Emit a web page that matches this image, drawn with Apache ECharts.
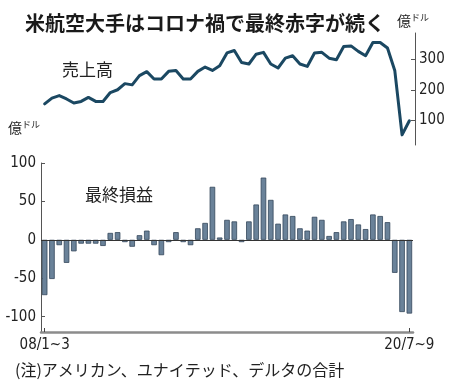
<!DOCTYPE html>
<html><head><meta charset="utf-8">
<script src="https://cdn.jsdelivr.net/npm/echarts@6/dist/echarts.min.js"></script>
<style>html,body{margin:0;padding:0;background:#fff}#c{width:450px;height:387px}</style>
</head><body><div id="c"></div>
<script>
// Quarters 2008 Q1 .. 2020 Q3
const years = ['08','09','10','11','12','13','14','15','16','17','18','19','20'];
const quarterRanges = ['1~3','4~6','7~9','10~12'];
const categories = [];
years.forEach(y => quarterRanges.forEach(q => { if (categories.length < 51) categories.push(y + '/' + q); }));

// 売上高 (億ドル)
const revenue = [154,173,181,170,157,162,175,162,162,191,200,220,216,246,259,235,235,260,263,235,235,260,274,263,278,320,328,289,284,316,322,284,271,303,311,284,276,320,322,303,298,341,343,325,311,354,354,336,263,53,99];
// 最終損益 (億ドル)
const netIncome = [-72,-51,-7,-30,-15,-5,-5,-5,-8,9,10,-3,-9,6,12,-7,-20,-3,10,-3,-7,15,22,69,3,26,24,-3,24,46,81,52,21,33,31,15,12,30,26,5,10,24,27,20,14,33,31,23,-43,-94,-96];

const revenueTicks = [100, 200, 300];
const profitTicks = [-100, -50, 0, 50, 100];

const NUM = "'Liberation Sans Narrow','DejaVu Sans Condensed',Roboto,sans-serif";
const JP = "'Noto Sans CJK JP',sans-serif";
const lastIdx = categories.length - 1;

const chart = echarts.init(document.getElementById('c'), null, {renderer: 'canvas'});
chart.setOption({
  animation: false,
  backgroundColor: '#fff',
  title: {
    text: '米航空大手はコロナ禍で最終赤字が続く',
    left: 20, top: 8,
    textStyle: {fontFamily: JP, fontSize: 20, fontWeight: 'bold', color: '#1a1a1a'}
  },
  grid: [
    {left: 41, right: 37, top: 33, height: 112, outerBoundsMode: 'none'},
    {left: 41, right: 37, top: 163, height: 169, outerBoundsMode: 'none'}
  ],
  xAxis: [
    {type: 'category', gridIndex: 0, data: categories, show: false, boundaryGap: true},
    {type: 'category', gridIndex: 1, data: categories, boundaryGap: true,
      axisLine: {show: true, onZero: false, lineStyle: {color: '#8c8c8c', width: 2.5}},
      axisTick: {show: true, inside: true, alignWithLabel: true, length: 4, lineStyle: {color: '#444'},
        interval: (i) => i === 0 || i === lastIdx},
      axisLabel: {interval: (i) => i === 0 || i === lastIdx, margin: 6,
        fontFamily: NUM, fontSize: 15, color: '#222'}
    }
  ],
  yAxis: [
    {type: 'value', gridIndex: 0, position: 'right', offset: 2, min: 20, max: 385,
      splitLine: {show: false},
      axisLine: {show: true, lineStyle: {color: '#555', width: 1}},
      axisTick: {show: true, inside: true, length: 4, customValues: revenueTicks, lineStyle: {color: '#555'}},
      axisLabel: {customValues: revenueTicks, margin: 4, fontFamily: NUM, fontSize: 15, color: '#222'}
    },
    {type: 'value', gridIndex: 1, position: 'left', min: -120, max: 100,
      splitLine: {show: false},
      axisLine: {show: true, lineStyle: {color: '#555', width: 1}},
      axisTick: {show: true, inside: true, length: 4, customValues: profitTicks, lineStyle: {color: '#555'}},
      axisLabel: {customValues: profitTicks, margin: 5, fontFamily: NUM, fontSize: 15, color: '#222'}
    }
  ],
  series: [
    {type: 'line', xAxisIndex: 0, yAxisIndex: 0, data: revenue, symbol: 'none',
      lineStyle: {color: '#1b4862', width: 3, join: 'round', cap: 'round'}},
    {type: 'bar', xAxisIndex: 1, yAxisIndex: 1, data: netIncome, barCategoryGap: '24%',
      itemStyle: {color: '#6a8299', borderColor: '#34465a', borderWidth: 0.8},
      markLine: {silent: true, symbol: ['none','none'], label: {show: false},
        lineStyle: {color: '#333', width: 1, type: 'solid'}, data: [{yAxis: 0}]}}
  ],
  graphic: [
    {type: 'text', left: 62, top: 61, style: {text: '売上高', font: "17px 'Noto Sans CJK JP'", fill: '#222'}},
    {type: 'text', left: 85, top: 186, style: {text: '最終損益', font: "17px 'Noto Sans CJK JP'", fill: '#222'}},
    {type: 'text', left: 397, top: 13, style: {
      text: '{a|億}{b|ドル}', rich: {a: {fontFamily: JP, fontSize: 14, fill: '#222'}, b: {fontFamily: JP, fontSize: 9, fill: '#222', verticalAlign: 'top', padding: [0,0,6,0]}}}},
    {type: 'text', left: 8, top: 120, style: {
      text: '{a|億}{b|ドル}', rich: {a: {fontFamily: JP, fontSize: 14, fill: '#222'}, b: {fontFamily: JP, fontSize: 9, fill: '#222', verticalAlign: 'top', padding: [0,0,6,0]}}}},
    {type: 'text', left: 15, top: 362, style: {text: '(注)アメリカン、ユナイテッド、デルタの合計', font: "16px 'Noto Sans CJK JP'", fill: '#222'}}
  ]
});
</script>
</body></html>
